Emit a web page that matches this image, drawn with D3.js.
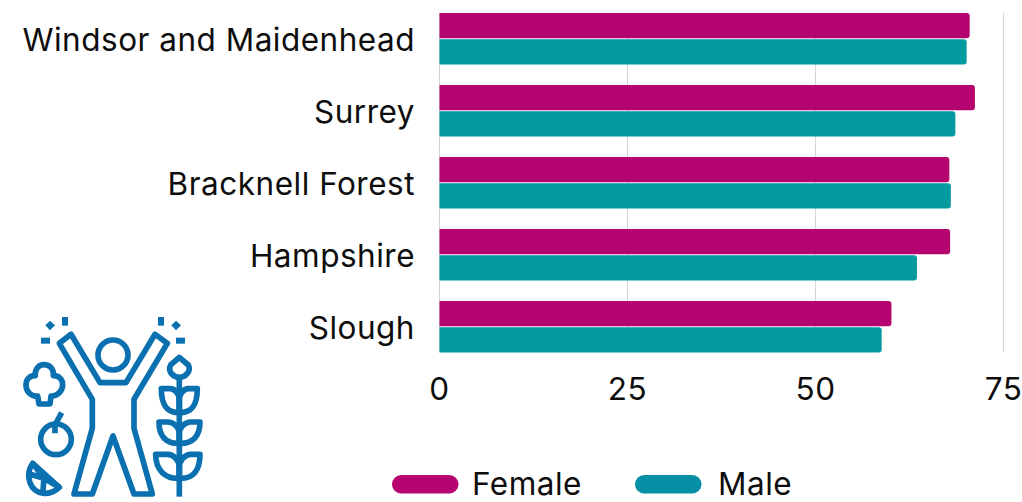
<!DOCTYPE html>
<html><head><meta charset="utf-8">
<script src="https://cdn.jsdelivr.net/npm/d3@7"></script>
<style>html,body{margin:0;padding:0;background:#fff}svg{display:block}text{font-family:Inter,sans-serif;fill:#0d0d0d;letter-spacing:0.5px}</style>
</head><body><div id="chart"></div>
<script>
const categories = ["Windsor and Maidenhead","Surrey","Bracknell Forest","Hampshire","Slough"];
const femaleValues = [70.5,71.2,67.8,67.9,60.1];
const maleValues = [70.1,68.6,68.0,63.5,58.8];
const xTicks = [0,25,50,75];
const seriesNames = ["Female","Male"];
const barColors = ["#b5046f","#049aa0"];
const legendColors = ["#b5046f","#058fa5"];
const fontSize = 31.5;

const svg = d3.select("#chart").append("svg").attr("width",1022).attr("height",502);
const x = d3.scaleLinear().domain([0,75]).range([439.5,1003.5]);
const y = d3.scaleBand().domain(categories).range([1,361]).paddingInner(0).paddingOuter(0);
const inner = d3.scaleBand().domain(seriesNames).range([12,63.5]).paddingInner(0.03);

svg.append("g").selectAll("line").data(xTicks).join("line")
  .attr("x1",d=>x(d)).attr("x2",d=>x(d)).attr("y1",13).attr("y2",352)
  .attr("stroke","#d4d4d4").attr("stroke-width",1);

function rbar(x0,x1,y0,h,r){return `M${x0},${y0}H${x1-r}Q${x1},${y0} ${x1},${y0+r}V${y0+h-r}Q${x1},${y0+h} ${x1-r},${y0+h}H${x0}Z`;}
seriesNames.forEach((s,i)=>{
  const vals = i===0?femaleValues:maleValues;
  svg.append("g").selectAll("path").data(categories).join("path")
    .attr("d",(c,j)=>rbar(x(0),x(vals[j]),y(c)+inner(s),inner.bandwidth(),3))
    .attr("fill",barColors[i]);
});

svg.append("g").selectAll("text").data(categories).join("text")
  .attr("x",415).attr("y",c=>y(c)+49.5).attr("text-anchor","end")
  .attr("font-size",fontSize).text(d=>d);

svg.append("g").selectAll("text").data(xTicks).join("text")
  .attr("x",d=>x(d)).attr("y",400).attr("text-anchor","middle")
  .attr("font-size",fontSize).text(d=>d);

const legendX = d3.scaleOrdinal().domain(seriesNames).range([392,635]);
const legendTextX = d3.scaleOrdinal().domain(seriesNames).range([472,718]);
svg.append("g").selectAll("rect").data(seriesNames).join("rect")
  .attr("x",d=>legendX(d)).attr("y",475).attr("width",66.5).attr("height",18.5).attr("rx",9.25)
  .attr("fill",(d,i)=>legendColors[i]);
svg.append("g").selectAll("text").data(seriesNames).join("text")
  .attr("x",d=>legendTextX(d)).attr("y",495).attr("font-size",fontSize).text(d=>d);

const ic = svg.append("g").attr("transform","translate(0,300) scale(0.3333)")
  .attr("fill","none").attr("stroke","#0a70b0").attr("stroke-width",17).attr("stroke-linejoin","round");
[[186,51,18,26],[474,51,18,26],[123,113,27,18],[528,113,27,18]].forEach(r=>
  ic.append("rect").attr("x",r[0]).attr("y",r[1]).attr("width",r[2]).attr("height",r[3]).attr("fill","#0a70b0").attr("stroke","none"));
["M150 62L165 76L150 91L136 76Z","M528 62L543 76L528 91L514 76Z"].forEach(d=>
  ic.append("path").attr("d",d).attr("fill","#0a70b0").attr("stroke","none"));
ic.append("circle").attr("cx",339).attr("cy",165).attr("r",45);
ic.append("circle").attr("cx",168).attr("cy",418).attr("r",46);
[
 "M178 130L213 103L300 248H378L465 103L502 130L402 298V385L457 582H402L339 408L277 582H222L277 385V298Z",
 "M117 312L113 288C90 290 78 272 78 254C78 238 90 226 106 227C104 208 116 194 132 194C150 194 162 208 160 227C176 226 188 238 188 254C188 272 172 290 153 288L150 312Z",
 "M165 400V375L185 338",
 "M98 490L178 562C150 590 104 585 90 548C82 524 88 504 98 490Z",
 "M132 535L88 522M132 535L128 585M132 535L178 562M132 535L98 490",
 "M538 172L565 195C575 215 555 232 538 232C520 232 502 215 512 195Z",
 "M538 232V590",
 "M484 266H512C528 268 538 285 538 300V338C505 338 484 322 484 266Z",
 "M592 266H564C548 268 538 285 538 300V338C571 338 592 322 592 266Z",
 "M477 366H505C525 368 538 385 538 400V430C500 432 477 410 477 366Z",
 "M600 366H571C551 368 538 385 538 400V430C576 432 600 410 600 366Z",
 "M467 463H505C525 465 538 485 538 500V535C495 537 467 510 467 463Z",
 "M600 463H571C551 465 538 485 538 500V535C581 537 600 510 600 463Z"
].forEach(d=>ic.append("path").attr("d",d));
</script></body></html>
